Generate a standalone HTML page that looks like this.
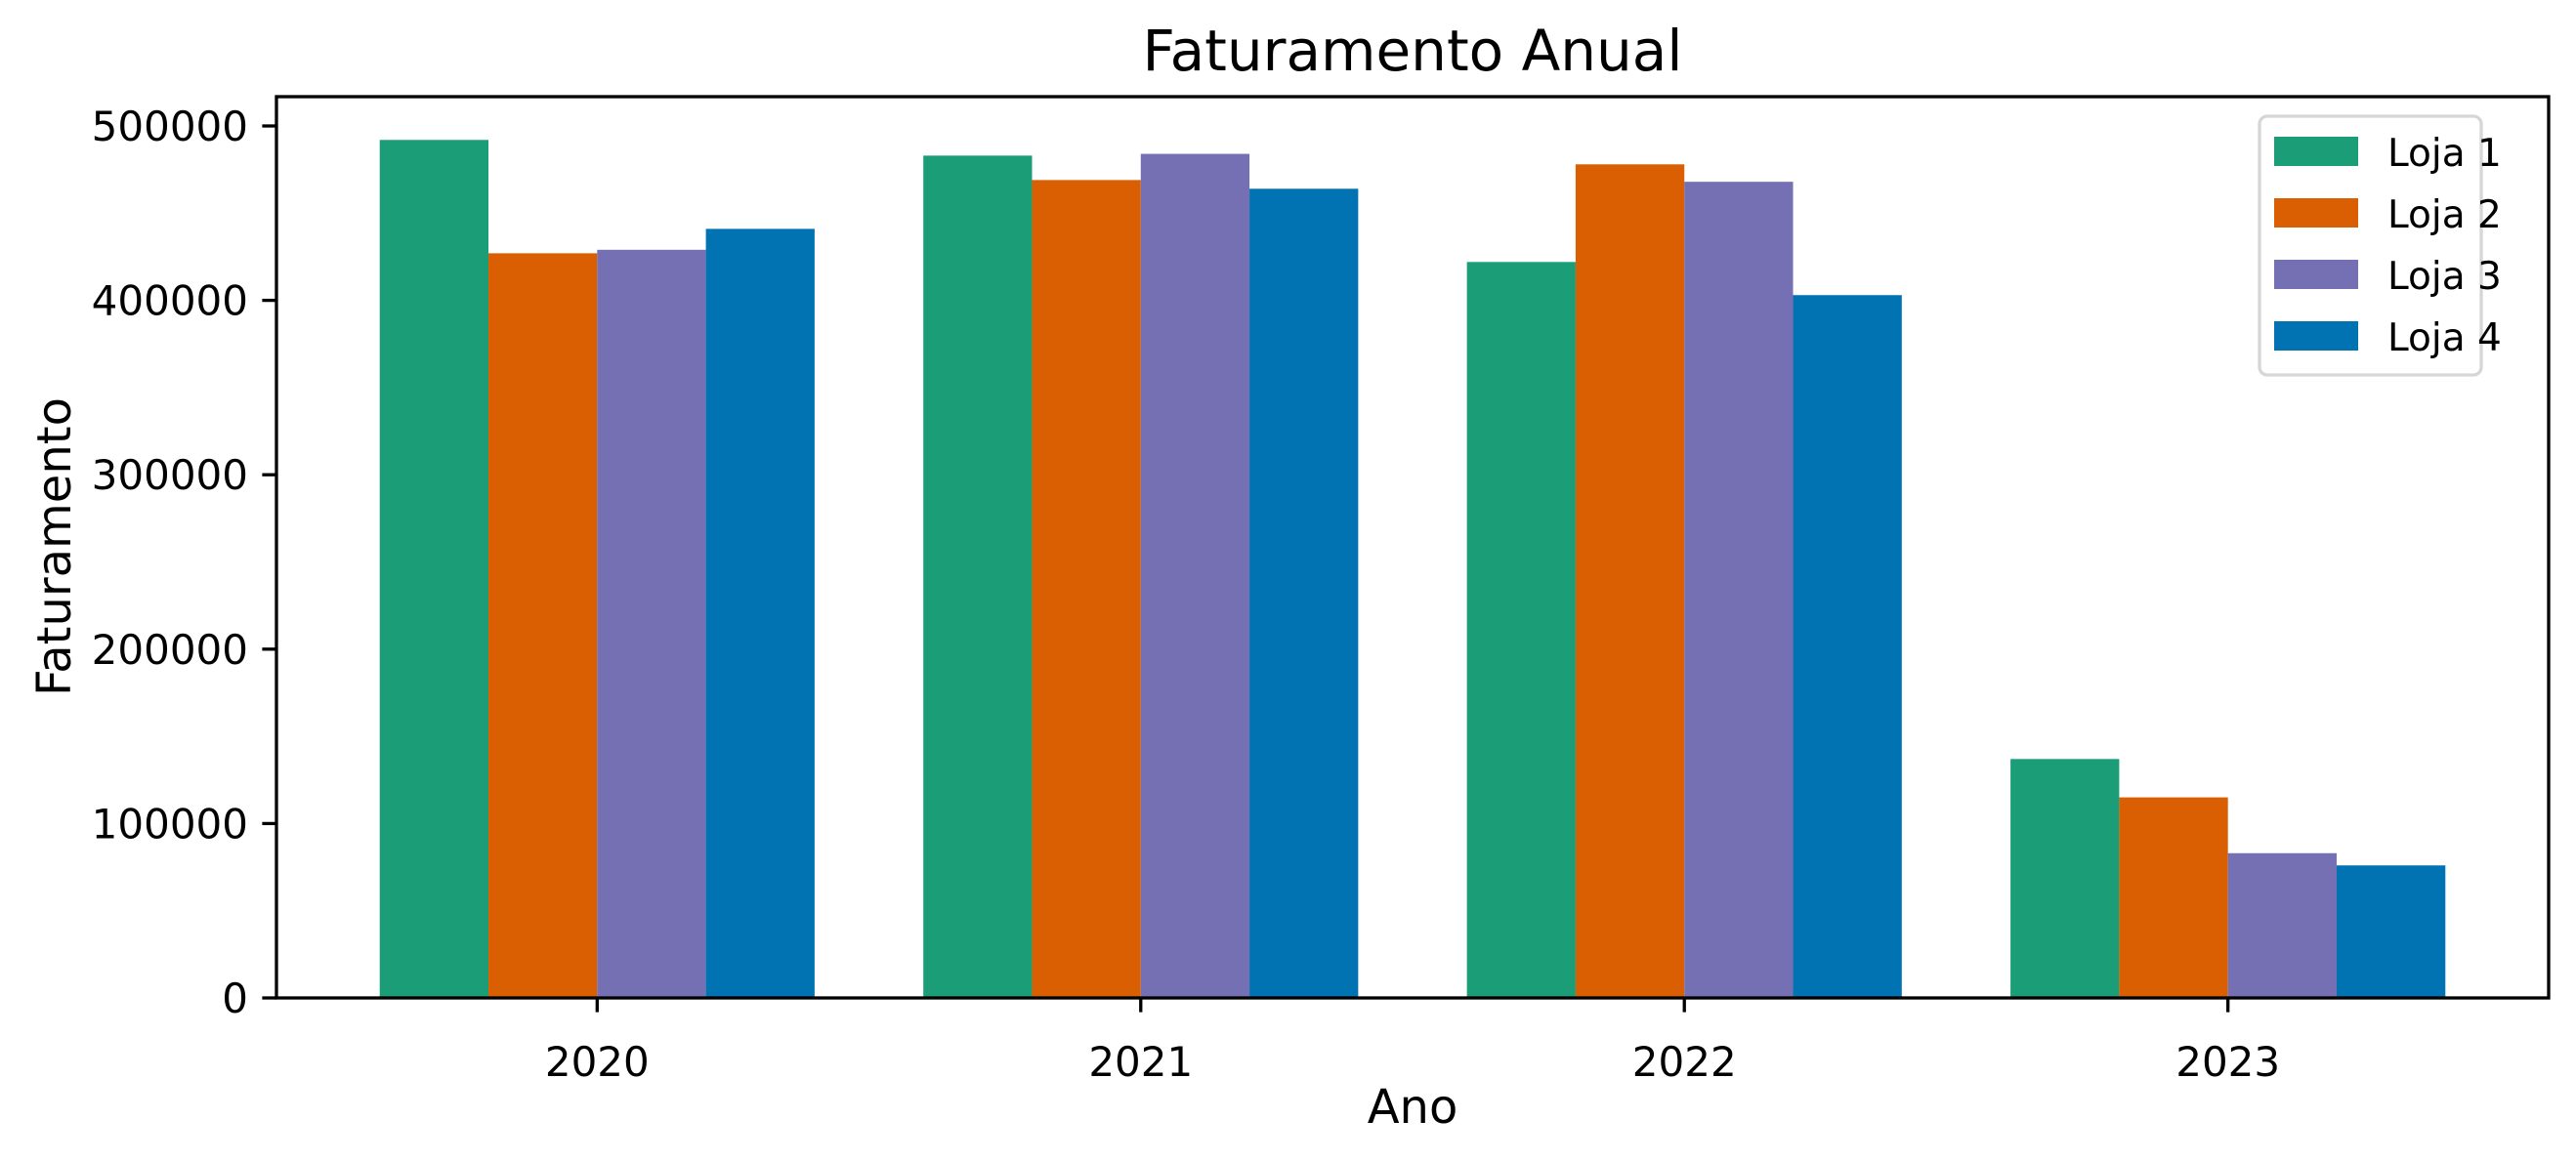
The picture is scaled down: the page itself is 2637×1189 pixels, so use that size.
<!DOCTYPE html>
<html><head><meta charset="utf-8"><style>
html,body{margin:0;padding:0;background:#fff;}
svg{display:block;font-family:"DejaVu Sans","Liberation Sans",sans-serif;}
</style></head><body>
<svg id="chart" width="2637" height="1189" viewBox="0 0 2637 1189">
<text x="1446" y="72" font-size="58" text-anchor="middle">Faturamento Anual</text>
<g id="bars"></g>
<g id="axes"></g>
<text x="1446" y="1150" font-size="48" text-anchor="middle">Ano</text>
<text transform="translate(72,560) rotate(-90)" font-size="48" text-anchor="middle">Faturamento</text>
<g id="legend"></g>
</svg>
<script>
const categories = ["2020","2021","2022","2023"];
const seriesNames = ["Loja 1","Loja 2","Loja 3","Loja 4"];
const loja1 = [492000, 483000, 422000, 137000];
const loja2 = [427000, 469000, 478000, 115000];
const loja3 = [429000, 484000, 468000, 83000];
const loja4 = [441000, 464000, 403000, 76000];
const yTicks = [0, 100000, 200000, 300000, 400000, 500000];
const colors = ["#1b9e77","#d95f02","#7570b3","#0173b2"];
const series = [loja1, loja2, loja3, loja4];

const NS = "http://www.w3.org/2000/svg";
const L = 283, R = 2609, T = 99, B = 1022;
const xMin = -0.59, xMax = categories.length - 1 + 0.59;
function xs(v){ return L + (v - xMin) / (xMax - xMin) * (R - L); }
function ys(v){ return B - v / 500000 * (B - 129); }
function mk(tag, attrs, parent){ const e = document.createElementNS(NS, tag); for (const k in attrs) e.setAttribute(k, attrs[k]); parent.appendChild(e); return e; }

const bars = document.getElementById('bars');
const bw = 0.2;
series.forEach((vals, s) => {
  vals.forEach((v, i) => {
    const x0 = xs(i - 0.4 + s * bw), x1 = xs(i - 0.4 + (s + 1) * bw);
    const r = mk('rect', {x: x0, y: ys(v), width: x1 - x0, height: ys(0) - ys(v), fill: colors[s]}, bars);
    
    
  });
});

const axes = document.getElementById('axes');
const frame = mk('rect', {x: L, y: T, width: R - L, height: B - T, fill: 'none', stroke: '#000', 'stroke-width': 3.3}, axes);


yTicks.forEach(t => {
  const y = ys(t);
  mk('line', {x1: L - 14.6, x2: L, y1: y, y2: y, stroke: '#000', 'stroke-width': 3.3}, axes);
  const tx = mk('text', {x: L - 29, y: y + 15, 'font-size': 42, 'text-anchor': 'end'}, axes);
  tx.textContent = t;
  
  
});
categories.forEach((c, i) => {
  const x = xs(i);
  mk('line', {x1: x, x2: x, y1: B, y2: B + 14.6, stroke: '#000', 'stroke-width': 3.3}, axes);
  const tx = mk('text', {x: x, y: B + 80, 'font-size': 42, 'text-anchor': 'middle'}, axes);
  tx.textContent = c;
  
  
});

const lg = document.getElementById('legend');
const box = mk('rect', {x: 2313, y: 119, width: 227, height: 265, rx: 8, fill: '#fff', stroke: '#d6d6d6', 'stroke-width': 3.3}, lg);


seriesNames.forEach((n, s) => {
  const y = 140 + s * 63;
  const p = mk('rect', {x: 2328, y: y, width: 86, height: 30, fill: colors[s]}, lg);
  
  
  const t = mk('text', {x: 2444, y: y + 30, 'font-size': 39}, lg);
  t.textContent = n;
  
  
});
</script>
</body></html>
